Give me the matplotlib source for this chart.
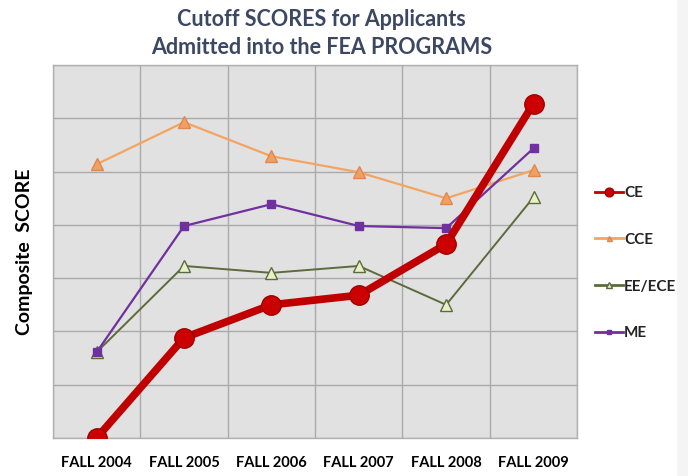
import matplotlib.pyplot as plt

plt.rcParams['font.family'] = ['Lato', 'DejaVu Sans']

# donnees (unites = intervalles de grille)
annees = ['FALL 2004', 'FALL 2005', 'FALL 2006', 'FALL 2007', 'FALL 2008', 'FALL 2009']
ce = [0.0, 1.88, 2.5, 2.68, 3.64, 6.28]
cce = [5.14, 5.93, 5.29, 4.99, 4.5, 5.03]
ee_ece = [1.61, 3.23, 3.1, 3.23, 2.5, 4.52]
me = [1.61, 3.98, 4.39, 3.98, 3.94, 5.44]

fig = plt.figure(figsize=(6.88, 4.76), dpi=100)
fig.patch.set_facecolor('white')
# bande grise a droite
fig.patches.append(plt.Rectangle((0.984, 0), 0.016, 1, transform=fig.transFigure,
                                 facecolor='#f4f4f4', edgecolor='none', zorder=0))

ax = fig.add_axes([0.077, 0.080, 0.762, 0.783])
ax.set_facecolor('#e1e1e1')

x = list(range(len(annees)))
ax.plot(x, cce, color='#f4a460', lw=1.6, marker='^', ms=8,
        mfc='#f0a060', mec='#e08850', label='CCE', zorder=3)
ax.plot(x, ee_ece, color='#5c6b3c', lw=1.4, marker='^', ms=9,
        mfc='#e8f0c8', mec='#5c6b3c', label='EE/ECE', zorder=3)
ax.plot(x, me, color='#7030a0', lw=1.6, marker='s', ms=6,
        mfc='#7030a0', mec='#7030a0', label='ME', zorder=4)
ax.plot(x, ce, color='#c00000', lw=5.5, marker='o', ms=14,
        mfc='#cc0000', mec='#a00000', label='CE', zorder=5)

ax.set_xlim(-0.5, 5.5)
ax.set_ylim(0, 7)
ax.set_xticks([i + 0.5 for i in range(-1, 6)], minor=False)
ax.set_xticklabels([])
ax.set_xticks(x, minor=True)
ax.set_xticklabels(annees, minor=True, fontsize=10.5, fontweight='bold')
ax.tick_params(axis='x', which='both', length=0, pad=13)
ax.set_yticks(range(8))
ax.set_yticklabels([])
ax.tick_params(axis='y', length=0)
ax.grid(True, which='major', color='#a9a9a9', lw=1)
ax.set_axisbelow(True)
for s in ax.spines.values():
    s.set_color('#b0b0b0')
    s.set_linewidth(1)

ax.set_ylabel('Composite  SCORE', fontsize=14, fontweight='bold', labelpad=11)
fig.text(0.467, 0.958, 'Cutoff SCORES for Applicants', ha='center', va='center',
         fontsize=15.5, fontweight='bold', color='#3c4762')
fig.text(0.467, 0.901, 'Admitted into the FEA PROGRAMS', ha='center', va='center',
         fontsize=15.5, fontweight='bold', color='#3c4762')

h, l = ax.get_legend_handles_labels()
ordre = [3, 0, 1, 2]
leg = fig.legend([h[i] for i in ordre], [l[i] for i in ordre],
                 loc='center left', bbox_to_anchor=(0.845, 0.447), frameon=False,
                 fontsize=11, handlelength=1.8, labelspacing=2.15,
                 handletextpad=0.1, markerscale=0.45)
for t in leg.get_texts():
    t.set_fontweight('bold')
    t.set_color('#222222')
for ln in leg.get_lines():
    ln.set_linewidth(2)

fig.savefig('out.png', dpi=100)
